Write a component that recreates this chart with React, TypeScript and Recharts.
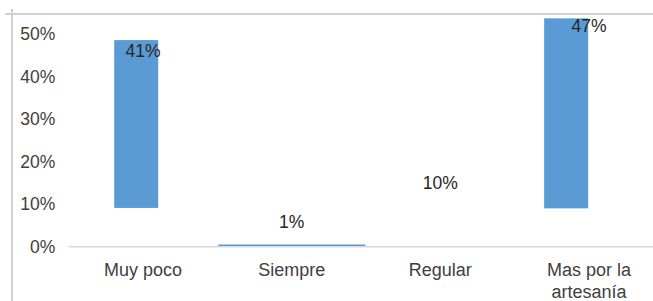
import { Bar, ComposedChart, LabelList, Line, Text, XAxis, YAxis } from "recharts";

// values (percent)
const categories = ["Muy poco", "Siempre", "Regular", "Mas por la artesanía"];
const shares = [41, 1, 10, 47];
const barLow = [9.1, null, null, 9.0];
const barHigh = [48.5, null, null, 53.6];
const floorLine = [null, 0.5, null, null];
const yTicks = [0, 10, 20, 30, 40, 50];

const rows = categories.map((name, i) => ({
  name,
  share: shares[i],
  range: barLow[i] == null || barHigh[i] == null ? null : [barLow[i], barHigh[i]],
  floor: floorLine[i],
}));

const FONT = "'Liberation Sans', Arial, sans-serif";
const BLUE = "#5b9bd5";
// the source bars sit a little left of their category centre
const BAR_SHIFT: Record<string, number> = { "Muy poco": -6.5, "Mas por la artesanía": -22.5 };

function ShiftedBar(props: any) {
  const { x, y, width, height, payload } = props;
  if (!height) return null;
  const dx = BAR_SHIFT[payload?.name] ?? 0;
  return <rect x={x + dx} y={y} width={width} height={height} fill={BLUE} />;
}

function CategoryTick({ x, y, payload }: any) {
  return (
    <Text
      x={x}
      y={y}
      width={120}
      textAnchor="middle"
      verticalAnchor="start"
      lineHeight={22}
      fill="#404040"
      fontSize={18}
      fontFamily={FONT}
      style={{ fontFamily: FONT, fontSize: 18 }}
    >
      {payload.value}
    </Text>
  );
}

export default function App() {
  return (
    <div
      style={{
        position: "fixed",
        left: 0,
        top: 0,
        width: 653,
        height: 301,
        overflow: "hidden",
        background: "#fff",
        fontFamily: FONT,
      }}
    >
      <div style={{ position: "absolute", left: 5, right: 0, top: 13, height: 2, background: "#d0d0d0" }} />
      <div style={{ position: "absolute", left: 11, top: 9, bottom: 0, width: 2, background: "#d0d0d0" }} />
      <div style={{ position: "absolute", left: 0, top: 0 }}>
        <ComposedChart
          width={680}
          height={301}
          data={rows}
          margin={{ top: 12.4, right: 16.7, bottom: 14.3, left: 8.7 }}
        >
          <XAxis
            xAxisId="cat"
            dataKey="name"
            height={40}
            tickSize={0}
            tickMargin={16.5}
            tickLine={false}
            axisLine={{ stroke: "#d9d9d9", strokeWidth: 1.5 }}
            tick={<CategoryTick />}
            interval={0}
          />
          <XAxis xAxisId="wide" dataKey="name" hide />
          <YAxis
            domain={[0, 55]}
            ticks={yTicks}
            width={60}
            axisLine={false}
            tickLine={false}
            tickSize={0}
            tickMargin={13.4}
            tickFormatter={(v: number) => `${v}%`}
            tick={{ fill: "#404040", fontSize: 17.5, fontFamily: FONT }}
          />
          <Bar
            xAxisId="cat"
            dataKey="range"
            barSize={44}
            fill={BLUE}
            shape={<ShiftedBar />}
            isAnimationActive={false}
          />
          <Bar xAxisId="wide" dataKey="floor" barSize={147} fill={BLUE} isAnimationActive={false} />
          <Line
            xAxisId="cat"
            dataKey="share"
            stroke="none"
            dot={false}
            activeDot={false}
            isAnimationActive={false}
          >
            <LabelList
              dataKey="share"
              position="top"
              offset={14.7}
              formatter={(v: any) => `${v}%`}
              fill="#262626"
              fontSize={17.5}
              fontFamily={FONT}
            />
          </Line>
        </ComposedChart>
      </div>
    </div>
  );
}
